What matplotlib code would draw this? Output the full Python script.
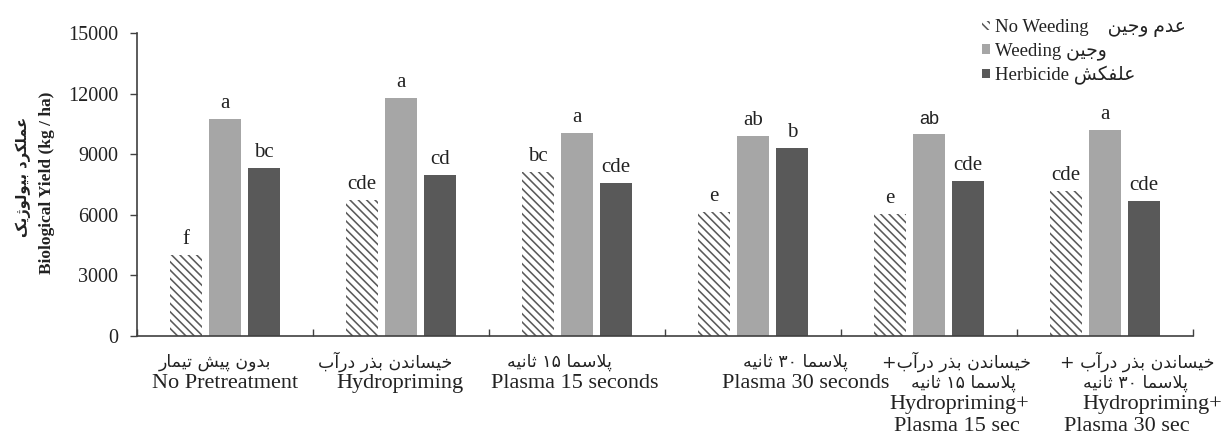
import matplotlib
matplotlib.use("Agg")
import matplotlib.pyplot as plt
import numpy as np
from matplotlib.patches import Patch

# ---------------- data ----------------
categories_en = [["No Pretreatment"], ["Hydropriming"], ["Plasma 15 seconds"],
                 ["Plasma 30 seconds"], ["Hydropriming+", "Plasma 15 sec"],
                 ["Hydropriming+", "Plasma 30 sec"]]
categories_fa = [["بدون پیش تیمار"], ["خیساندن بذر درآب"], ["پلاسما ۱۵ ثانیه"],
                 ["پلاسما ۳۰ ثانیه"], ["خیساندن بذر درآب+", "پلاسما ۱۵ ثانیه"],
                 ["خیساندن بذر درآب +", "پلاسما ۳۰ ثانیه"]]
series_en = ["No Weeding", "Weeding", "Herbicide"]
series_fa = ["عدم وجین", "وجین", "علفکش"]
no_weeding = [4000, 6750, 8100, 6150, 6050, 7200]
weeding = [10750, 11800, 10050, 9900, 10000, 10200]
herbicide = [8300, 7950, 7550, 9300, 7650, 6700]
letters_nw = ["f", "cde", "bc", "e", "e", "cde"]
letters_w = ["a", "a", "a", "ab", "ab", "a"]
letters_h = ["bc", "cd", "cde", "b", "cde", "cde"]
yticks = [0, 3000, 6000, 9000, 12000, 15000]
ylabel_fa = "عملکرد بیولوژیک"
ylabel_en = "Biological Yield (kg / ha)"

# label line offsets (pixels, layout only)
fa_dx = [[-10], [-16], [-18], [42], [27, 34], [32, 30]]
en_dx = [[0], [-1], [-2], [53], [30, 28], [47, 22]]

# ---------------- simple Persian shaping ----------------
FORMS = {
    '\u0627': ('\uFE8D', '\uFE8E', None, None),
    '\u0622': ('\uFE81', '\uFE82', None, None),
    '\u0628': ('\uFE8F', '\uFE90', '\uFE91', '\uFE92'),
    '\u062A': ('\uFE95', '\uFE96', '\uFE97', '\uFE98'),
    '\u062B': ('\uFE99', '\uFE9A', '\uFE9B', '\uFE9C'),
    '\u062C': ('\uFE9D', '\uFE9E', '\uFE9F', '\uFEA0'),
    '\u062E': ('\uFEA5', '\uFEA6', '\uFEA7', '\uFEA8'),
    '\u062F': ('\uFEA9', '\uFEAA', None, None),
    '\u0630': ('\uFEAB', '\uFEAC', None, None),
    '\u0631': ('\uFEAD', '\uFEAE', None, None),
    '\u0632': ('\uFEAF', '\uFEB0', None, None),
    '\u0698': ('\uFB8A', '\uFB8B', None, None),
    '\u0633': ('\uFEB1', '\uFEB2', '\uFEB3', '\uFEB4'),
    '\u0634': ('\uFEB5', '\uFEB6', '\uFEB7', '\uFEB8'),
    '\u0639': ('\uFEC9', '\uFECA', '\uFECB', '\uFECC'),
    '\u0641': ('\uFED1', '\uFED2', '\uFED3', '\uFED4'),
    '\u0644': ('\uFEDD', '\uFEDE', '\uFEDF', '\uFEE0'),
    '\u0645': ('\uFEE1', '\uFEE2', '\uFEE3', '\uFEE4'),
    '\u0646': ('\uFEE5', '\uFEE6', '\uFEE7', '\uFEE8'),
    '\u0647': ('\uFEE9', '\uFEEA', '\uFEEB', '\uFEEC'),
    '\u0648': ('\uFEED', '\uFEEE', None, None),
    '\u067E': ('\uFB56', '\uFB57', '\uFB58', '\uFB59'),
    '\u06A9': ('\uFB8E', '\uFB8F', '\uFB90', '\uFB91'),
    '\u06CC': ('\uFBFC', '\uFBFD', '\uFBFE', '\uFBFF'),
}
LAMALEF = {'\u0627': ('\uFEFB', '\uFEFC'), '\u0622': ('\uFEF5', '\uFEF6')}
DIGITS = set('\u06F0\u06F1\u06F2\u06F3\u06F4\u06F5\u06F6\u06F7\u06F8\u06F90123456789')


def fa(text):
    s = (text.replace('\u0627\u0653', '\u0622').replace('\u064A', '\u06CC')
         .replace('\u0643', '\u06A9'))
    chars = list(s)
    shaped = []
    i = 0
    n = len(chars)
    while i < n:
        c = chars[i]
        if c not in FORMS:
            shaped.append(c)
            i += 1
            continue
        prev = chars[i - 1] if i > 0 else None
        join_prev = prev in FORMS and FORMS[prev][2] is not None
        if c == '\u0644' and i + 1 < n and chars[i + 1] in LAMALEF:
            iso, fin = LAMALEF[chars[i + 1]]
            shaped.append(fin if join_prev else iso)
            i += 2
            continue
        nxt = chars[i + 1] if i + 1 < n else None
        join_next = nxt in FORMS and FORMS[c][2] is not None
        iso, fin, ini, med = FORMS[c]
        if join_prev and join_next:
            f = med
        elif join_prev:
            f = fin
        elif join_next:
            f = ini
        else:
            f = iso
        shaped.append(f)
        i += 1
    runs = []
    for ch in shaped:
        isd = ch in DIGITS
        if runs and runs[-1][0] == isd:
            runs[-1][1].append(ch)
        else:
            runs.append([isd, [ch]])
    out = []
    for isd, r in reversed(runs):
        out.append(''.join(r) if isd else ''.join(reversed(r)))
    return ''.join(out)


# ---------------- plot ----------------
SERIF = 'Liberation Serif'
FA_FONT = 'DejaVu Sans'
TXT = '#222222'
HATCH = '\\' * 4
plt.rcParams['hatch.linewidth'] = 1.15
plt.rcParams['hatch.color'] = '#5a5a5a'

fig = plt.figure(figsize=(12.23, 4.34), dpi=100)
ax = fig.add_axes([137 / 1223, 1 - 336 / 434, (1193 - 137) / 1223, (336 - 33) / 434])

x = np.arange(len(categories_en))
w = 0.18
off = 0.222
c_w = '#a6a6a6'
c_h = '#595959'

b1 = ax.bar(x - off, no_weeding, w, color='white', edgecolor='#5a5a5a', linewidth=0,
            hatch=HATCH)
b2 = ax.bar(x, weeding, w, color=c_w, edgecolor='none')
b3 = ax.bar(x + off, herbicide, w, color=c_h, edgecolor='none')

for bars, labs in ((b1, letters_nw), (b2, letters_w), (b3, letters_h)):
    for rect, lab in zip(bars, labs):
        fam = SERIF
        if lab == 'ab' and rect.get_x() > 3.5 and bars is b2:
            fam = 'Liberation Sans'
        ax.annotate(lab, (rect.get_x() + rect.get_width() / 2, rect.get_height()),
                    xytext=(0, 6), textcoords='offset pixels', ha='center', va='bottom',
                    fontsize=15 if fam == SERIF else 13, family=fam, color=TXT)

ax.set_xlim(-0.5, len(categories_en) - 0.5)
ax.set_ylim(0, 15000)
ax.set_yticks(yticks)
ax.set_yticklabels([str(v) for v in yticks], family=SERIF, fontsize=14.5, color=TXT)
ax.tick_params(axis='y', direction='out', length=5, width=1, color='#404040', pad=8.5)
ax.set_xticks(np.arange(len(categories_en) + 1) - 0.5)
ax.set_xticklabels([])
ax.tick_params(axis='x', direction='in', length=5, width=1, color='#404040')
for s in ('top', 'right'):
    ax.spines[s].set_visible(False)
for s in ('left', 'bottom'):
    ax.spines[s].set_color('#404040')
    ax.spines[s].set_linewidth(1.2)

# category labels
line_h = 21.5
first = -26
for i in range(len(categories_en)):
    row = 0
    for j, t in enumerate(categories_fa[i]):
        ax.annotate(fa(t), (x[i], 0), xycoords=('data', 'axes fraction'),
                    xytext=(fa_dx[i][j], first - row * line_h), textcoords='offset pixels',
                    ha='center', va='center', family=FA_FONT, fontsize=12.5, color=TXT,
                    annotation_clip=False)
        row += 1
    for j, t in enumerate(categories_en[i]):
        ax.annotate(t, (x[i], 0), xycoords=('data', 'axes fraction'),
                    xytext=(en_dx[i][j], first - row * line_h), textcoords='offset pixels',
                    ha='center', va='center', family=SERIF, fontsize=16, color=TXT,
                    annotation_clip=False)
        row += 1

# y label (two lines)
fig.text(23 / 1223, 1 - 177 / 434, fa(ylabel_fa), rotation=90, ha='center', va='center',
         family=FA_FONT, fontweight='bold', fontsize=10.5, color=TXT)
fig.text(47 / 1223, 1 - 183 / 434, ylabel_en, rotation=90, ha='center', va='center',
         family=SERIF, fontweight='bold', fontsize=12.5, color=TXT)

# legend
handles = [Patch(facecolor='white', edgecolor='#5a5a5a', linewidth=0, hatch=HATCH),
           Patch(facecolor=c_w, edgecolor='none'),
           Patch(facecolor=c_h, edgecolor='none')]
seps = ['    ', ' ', ' ']
labels = [series_en[k] + seps[k] + fa(series_fa[k]) for k in range(3)]
leg = fig.legend(handles, labels, loc='upper left', bbox_to_anchor=(982 / 1223, 1 - 19 / 434),
                 frameon=False, handlelength=0.4, handleheight=0.4, handletextpad=0.3,
                 labelspacing=0.3, borderpad=0, borderaxespad=0,
                 prop={'family': [SERIF, FA_FONT], 'size': 13.5})
for t in leg.get_texts():
    t.set_color(TXT)

fig.savefig('out.png', dpi=100)
